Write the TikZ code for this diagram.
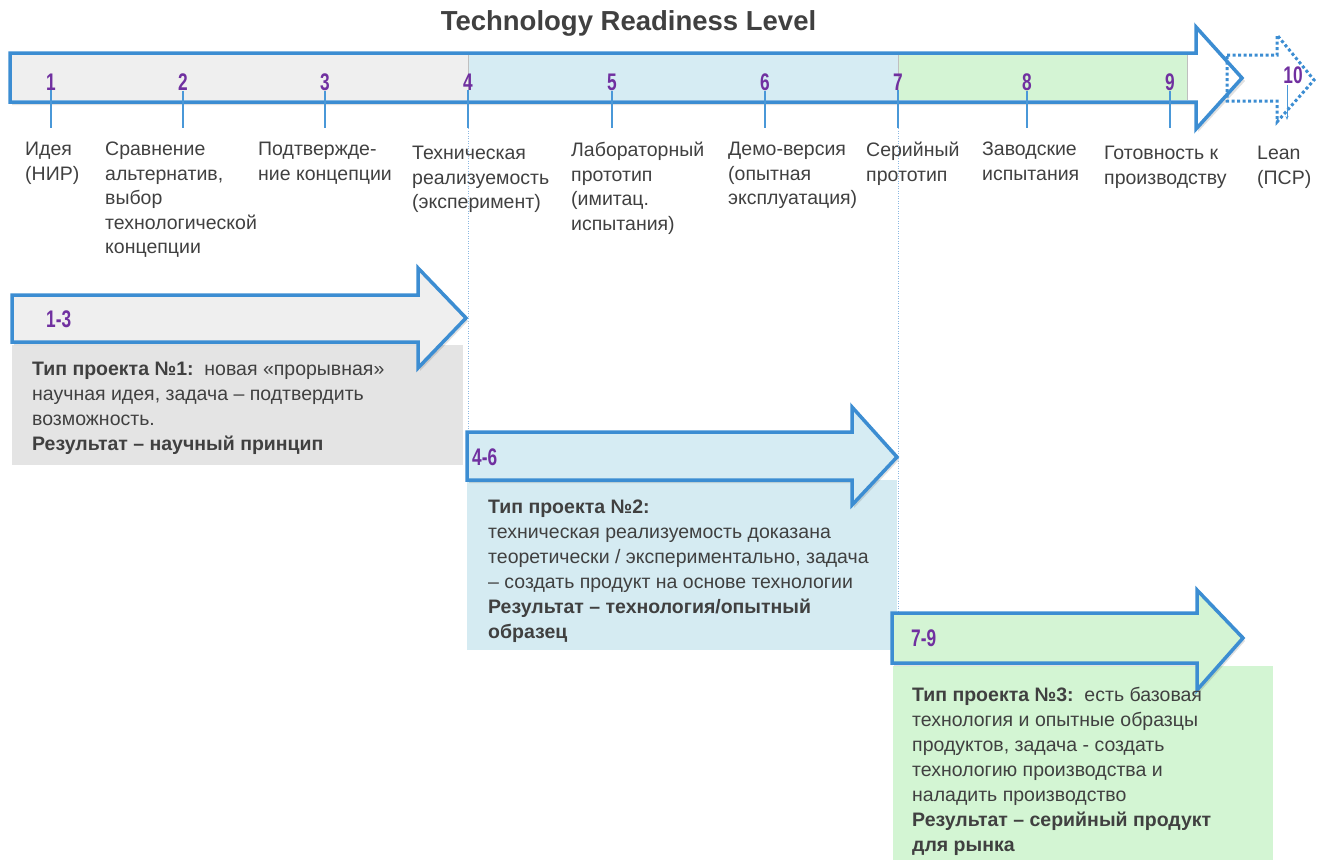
\documentclass[tikz,border=0pt]{standalone}
\usepackage{fontspec}
\setmainfont{Liberation Sans}
\newfontfamily\numfont[FakeStretch=0.72]{Liberation Sans}
\usetikzlibrary{arrows.meta}
\definecolor{arrowblue}{HTML}{3C8DD2}
\definecolor{tickblue}{HTML}{4A98D8}
\definecolor{dotblue}{HTML}{8CB8E2}
\definecolor{numpurple}{HTML}{7030A0}
\definecolor{txtgray}{HTML}{404040}
\definecolor{grayfill}{HTML}{EFEFEF}
\definecolor{grayfillb}{HTML}{E4E4E4}
\definecolor{bluefill}{HTML}{D6ECF3}
\definecolor{bluefillb}{HTML}{D5EBF2}
\definecolor{greenfill}{HTML}{D4F4D4}
\definecolor{greenfillb}{HTML}{D3F5D3}
\tikzset{
  bigarrow/.style={draw=arrowblue, line width=3.5pt, line join=miter},
  shadowfill/.style={fill=black, opacity=0.12},
  lbl/.style={anchor=north west, inner sep=0pt, align=left, font=\fontsize{19.5}{24.5}\selectfont, text=txtgray},
  boxtxt/.style={anchor=north west, inner sep=0pt, align=left, font=\fontsize{19.5}{25}\selectfont, text=txtgray},
  num/.style={inner sep=0pt, font=\numfont\bfseries\fontsize{24}{26}\selectfont, text=numpurple},
  tickline/.style={draw=tickblue, line width=1.2pt},
  vdot/.style={draw=dotblue, line width=1pt, dash pattern=on 1pt off 1.5pt},
  divider/.style={draw=black!25, line width=0.8pt},
  dotarrow/.style={draw=arrowblue, line width=3pt, dash pattern=on 3pt off 2.5pt, line join=miter}
}
\begin{document}
\begin{tikzpicture}[x=1pt,y=-1pt]
\useasboundingbox (0,0) rectangle (1317,860);
% title
\node[inner sep=0pt, anchor=base, font=\bfseries\fontsize{27.5}{30}\selectfont, text=txtgray] (title) at (628.5,30) {Technology Readiness Level};
% main arrow shadow
\fill[shadowfill] (12,56) -- (1198,56) -- (1198,30) -- (1245,81) -- (1198,132) -- (1198,105) -- (12,105) -- cycle;
% main arrow fills
\fill[white] (10,53) -- (1196,53) -- (1196,27) -- (1242,78) -- (1196,129) -- (1196,102) -- (10,102) -- cycle;
\fill[grayfill] (12,55) rectangle (468,100);
\fill[bluefill] (468,55) rectangle (898,100);
\fill[greenfill] (898,55) rectangle (1187,100);
\draw[divider] (468,55) -- (468,100);
\draw[divider] (898,55) -- (898,100);
\draw[divider] (1187,55) -- (1187,100);
\draw[bigarrow] (10,53) -- (1196,53) -- (1196,27) -- (1242,78) -- (1196,129) -- (1196,102) -- (10,102) -- cycle;
% dotted arrow (level 10)
\draw[dotarrow] (1227,55) -- (1277,55) -- (1277,35) -- (1314,80) -- (1277,122) -- (1277,101) -- (1227,101) -- cycle;
% numbers
\node[num] (n1) at (51,82) {1};
\node[num] (n2) at (183,82) {2};
\node[num] (n3) at (325,82) {3};
\node[num] (n4) at (468,82) {4};
\node[num] (n5) at (612,82) {5};
\node[num] (n6) at (765,82) {6};
\node[num] (n7) at (898,82) {7};
\node[num] (n8) at (1027,82) {8};
\node[num] (n9) at (1170,82) {9};
\node[num] (n10) at (1293,75) {10};
% tick ends
\coordinate (t1) at (51,128);
\coordinate (t2) at (183,128);
\coordinate (t3) at (325,128);
\coordinate (t4) at (468,128);
\coordinate (t5) at (612,128);
\coordinate (t6) at (765,128);
\coordinate (t7) at (898,128);
\coordinate (t8) at (1027,128);
\coordinate (t9) at (1170,128);
\coordinate (t10) at (1287,120);
\foreach \i in {1,...,9} { \draw[tickline] (n\i.south) -- (t\i); }
\coordinate (s10) at (1287,85);
\draw[draw=tickblue, line width=1pt, -{Stealth[length=4pt,width=3pt]}] (s10) -- (t10);
% labels
\node[lbl] (l1) at (25,142) {Идея\\(НИР)};
\node[lbl] (l2) at (105,142) {Сравнение\\альтернатив,\\выбор\\технологической\\концепции};
\node[lbl] (l3) at (258,142) {Подтвержде-\\ние концепции};
\node[lbl] (l4) at (412,146) {Техническая\\реализуемость\\(эксперимент)};
\node[lbl] (l5) at (571,142) {Лабораторный\\прототип\\(имитац.\\испытания)};
\node[lbl] (l6) at (728,142) {Демо-версия\\(опытная\\эксплуатация)};
\node[lbl] (l7) at (866,142) {Серийный\\прототип};
\node[lbl] (l8) at (982,142) {Заводские\\испытания};
\node[lbl] (l9) at (1104,146) {Готовность к\\производству};
\node[lbl] (l10) at (1257,146) {Lean\\(ПСР)};
% boxes
\fill[grayfillb] (12,345) rectangle (463,465);
\fill[bluefillb] (467,480) rectangle (897,650);
\fill[greenfillb] (893,666) rectangle (1273,860);
% dotted guides
\coordinate (d4) at (468,432);
\coordinate (d7) at (898,613);
\draw[vdot] (t4) -- (d4);
\draw[vdot] (t7) -- (d7);
% arrow 1
\fill[shadowfill] (14,298) -- (420,298) -- (420,271) -- (468,321) -- (420,371) -- (420,345) -- (14,345) -- cycle;
\draw[bigarrow, fill=grayfill] (12,295) -- (418,295) -- (418,268) -- (466,318) -- (418,368) -- (418,342) -- (12,342) -- cycle;
% arrow 2
\fill[shadowfill] (469,435) -- (854,435) -- (854,410) -- (899,460) -- (854,508) -- (854,483) -- (469,483) -- cycle;
\draw[bigarrow, fill=bluefill] (467,432) -- (852,432) -- (852,407) -- (897,457) -- (852,505) -- (852,480) -- (467,480) -- cycle;
% arrow 3
\fill[shadowfill] (894,616) -- (1199,616) -- (1199,593) -- (1245,641) -- (1199,693) -- (1199,666) -- (894,666) -- cycle;
\draw[bigarrow, fill=greenfill] (892,613) -- (1197,613) -- (1197,590) -- (1243,638) -- (1197,690) -- (1197,663) -- (892,663) -- cycle;
% range labels
\node[num, anchor=west] (r1) at (46,319) {1-3};
\node[num, anchor=west] (r2) at (472,457) {4-6};
\node[num, anchor=west] (r3) at (911,638) {7-9};
% box texts
\node[boxtxt] (b1) at (32,362) {\textbf{Тип проекта №1:}\ \ новая «прорывная»\\научная идея, задача – подтвердить\\возможность.\\\textbf{Результат – научный принцип}};
\node[boxtxt] (b2) at (488,500) {\textbf{Тип проекта №2:}\\техническая реализуемость доказана\\теоретически / экспериментально, задача\\– создать продукт на основе технологии\\\textbf{Результат – технология/опытный}\\\textbf{образец}};
\node[boxtxt] (b3) at (912,687) {\textbf{Тип проекта №3:}\ \ есть базовая\\технология и опытные образцы\\продуктов, задача - создать\\технологию производства и\\наладить производство\\\textbf{Результат – серийный продукт}\\\textbf{для рынка}};
\end{tikzpicture}
\end{document}
